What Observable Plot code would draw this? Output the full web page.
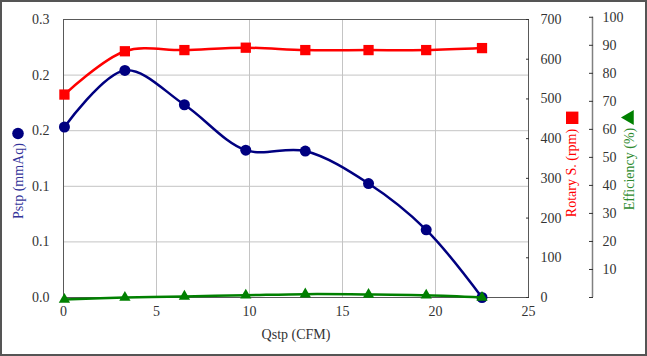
<!DOCTYPE html>
<html><head><meta charset="utf-8">
<script src="https://cdn.jsdelivr.net/npm/d3@7"></script>
<script src="https://cdn.jsdelivr.net/npm/@observablehq/plot@0.6"></script>
<style>
body{margin:0;background:#fff;}
#wrap{position:relative;width:647px;height:356px;}
#wrap svg, #wrap svg text{font-family:"Liberation Serif", serif !important;}
#border{position:absolute;left:0;top:0;width:647px;height:356px;box-sizing:border-box;border:2px solid #555;pointer-events:none;}
</style></head><body><div id="wrap"><div id="border"></div></div>
<script>
const qstp = [0.05, 3.3, 6.5, 9.8, 13.0, 16.4, 19.5, 22.5];
const pstp = [0.184, 0.245, 0.208, 0.159, 0.158, 0.123, 0.073, 0.0];
const rpm = [511, 620, 623, 629, 623, 623, 623, 628];
const eff = [-0.7, 0.0, 0.4, 0.8, 1.2, 1.1, 0.8, 0.0];
const xTicks = [0, 5, 10, 15, 20, 25];
const pstpTicks = [0, 0.06, 0.12, 0.18, 0.24, 0.30];
const pstpTickLabels = ["0.0", "0.1", "0.1", "0.2", "0.2", "0.3"];
const rpmTicks = [0, 100, 200, 300, 400, 500, 600, 700];
const effTicks = [0, 10, 20, 30, 40, 50, 60, 70, 80, 90, 100];
const effTickLabels = ["", "10", "20", "30", "40", "50", "60", "70", "80", "90", "100"];

const PMAX = 0.3, RMAX = 700, EMAX = 100, EFF_TOP = 0.3024;
const yRpm = v => v * PMAX / RMAX;
const yEff = v => v * EFF_TOP / EMAX;

const rows = qstp.map((q, i) => ({q, p: pstp[i], r: yRpm(rpm[i]), e: yEff(eff[i])}));

const chart = Plot.plot({
  width: 647, height: 356,
  marginLeft: 63, marginRight: 119, marginTop: 19, marginBottom: 59,
  style: {fontSize: "14px", color: "#333", background: "white", overflow: "visible"},
  x: {domain: [0, 25]},
  y: {domain: [0, 0.3]},
  marks: [
    Plot.gridY(pstpTicks, {stroke: "#c4c4c4", strokeOpacity: 1}),
    Plot.gridX([5, 10, 15, 20], {stroke: "#c4c4c4", strokeOpacity: 1}),
    Plot.frame({stroke: "#595959"}),
    Plot.axisY(pstpTicks, {anchor: "left", tickSize: 0, tickPadding: 14, label: null,
      tickFormat: d => pstpTickLabels[pstpTicks.indexOf(d)]}),
    Plot.axisX(xTicks, {anchor: "bottom", tickSize: 0, tickPadding: 9, label: null}),
    Plot.axisY(rpmTicks.map(yRpm), {anchor: "right", tickSize: -3, tickPadding: 15, label: null,
      stroke: "#333", tickFormat: d => String(Math.round(d * RMAX / PMAX))}),
    Plot.ruleX([25], {y1: 0, y2: EFF_TOP, dx: 64, stroke: "#808080", strokeWidth: 1.5}),
    Plot.axisY(effTicks.map(yEff), {anchor: "right", dx: 64, tickSize: -4, tickPadding: 14, label: null,
      stroke: "#333", tickFormat: d => effTickLabels[Math.round(d * EMAX / EFF_TOP / 10)]}),
    Plot.line(rows, {x: "q", y: "p", stroke: "#000080", strokeWidth: 2.5, curve: "catmull-rom"}),
    Plot.dot(rows, {x: "q", y: "p", fill: "#000080", r: 5.5, symbol: "circle"}),
    Plot.line(rows, {x: "q", y: "r", stroke: "#ff0000", strokeWidth: 2.5, curve: "catmull-rom"}),
    Plot.dot(rows, {x: "q", y: "r", fill: "#ff0000", r: 5.8, symbol: "square"}),
    Plot.line(rows, {x: "q", y: "e", stroke: "#008000", strokeWidth: 2.5, curve: "catmull-rom"}),
    Plot.dot(rows, {x: "q", y: "e", fill: "#008000", r: 4.2, symbol: "triangle"}),
    Plot.text(["Qstp (CFM)"], {text: d => d, frameAnchor: "bottom", textAnchor: "middle", dy: 41, fill: "#333", fontSize: 14}),
    Plot.text(["Pstp (mmAq)"], {text: d => d, frameAnchor: "left", textAnchor: "middle", dx: -45, dy: 22.5, rotate: -90, fill: "#333399", fontSize: 14}),
    Plot.dot([0], {frameAnchor: "left", dx: -45.5, dy: -25, r: 5.8, fill: "#000080", symbol: "circle"}),
    Plot.text(["Rotary S. (rpm)"], {text: d => d, frameAnchor: "right", textAnchor: "middle", dx: 43, dy: 14.5, rotate: -90, fill: "#ff0000", fontSize: 14}),
    Plot.dot([0], {frameAnchor: "right", dx: 43.7, dy: -40.7, r: 7, fill: "#ff0000", symbol: "square"}),
    Plot.text(["Efficiency (%)"], {text: d => d, frameAnchor: "right", textAnchor: "middle", dx: 101, dy: 10.5, rotate: -90, fill: "#2e8b2e", fontSize: 14}),
    Plot.dot([0], {frameAnchor: "right", dx: 101, dy: -41, r: 5.5, fill: "#008000", symbol: "triangle", rotate: -90})
  ]
});
document.getElementById("wrap").appendChild(chart);
</script>
</body></html>
